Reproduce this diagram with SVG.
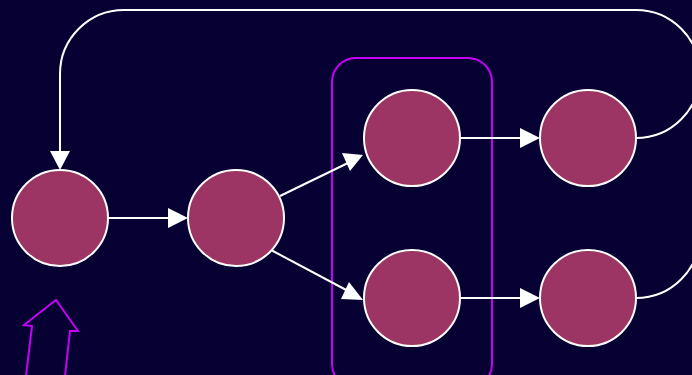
<svg xmlns="http://www.w3.org/2000/svg" width="692" height="375" viewBox="0 0 692 375">
<defs>
<style>
.node{fill:#9c3563;stroke:#ffffff;stroke-width:2}
.edge{fill:none;stroke:#ffffff;stroke-width:2}
.head{fill:#ffffff}
.hl{fill:none;stroke:#c400f5;stroke-width:2}
</style>
</defs>
<rect width="692" height="375" fill="#070033"/>
<g id="group-box"><rect class="hl" x="332" y="58" width="160" height="330" rx="24"/></g>
<g id="pointer"><path class="hl" d="M26,376 L32,326 L24,325 L56,300 L78,331 L70,331 L65,376"/></g>
<g id="connectors">
<line class="edge" x1="108" y1="218" x2="170" y2="218"/>
<polygon class="head" points="168,208 188,218 168,228"/>
<line class="edge" x1="280" y1="196" x2="350" y2="162"/>
<polygon class="head" points="342,153 363,155 350,171"/>
<line class="edge" x1="271" y1="250" x2="350" y2="292"/>
<polygon class="head" points="349,282 363,300 341,299"/>
<line class="edge" x1="460" y1="138" x2="522" y2="138"/>
<polygon class="head" points="520,128 540,138 520,148"/>
<line class="edge" x1="460" y1="298" x2="522" y2="298"/>
<polygon class="head" points="520,288 540,298 520,308"/>
<path class="edge" d="M636,138 A64,64 0 0 0 700,74 A64,64 0 0 0 636,10 H124 A64,64 0 0 0 60,74 V152"/>
<polygon class="head" points="50,151 70,151 60,170"/>
<path class="edge" d="M636,298 A64,64 0 0 0 700,234 V120"/>
</g>
<g id="n1"><circle class="node" cx="60" cy="218" r="48"/></g>
<g id="n2"><circle class="node" cx="236" cy="218" r="48"/></g>
<g id="n3"><circle class="node" cx="412" cy="138" r="48"/></g>
<g id="n4"><circle class="node" cx="412" cy="298" r="48"/></g>
<g id="n5"><circle class="node" cx="588" cy="138" r="48"/></g>
<g id="n6"><circle class="node" cx="588" cy="298" r="48"/></g>
</svg>
